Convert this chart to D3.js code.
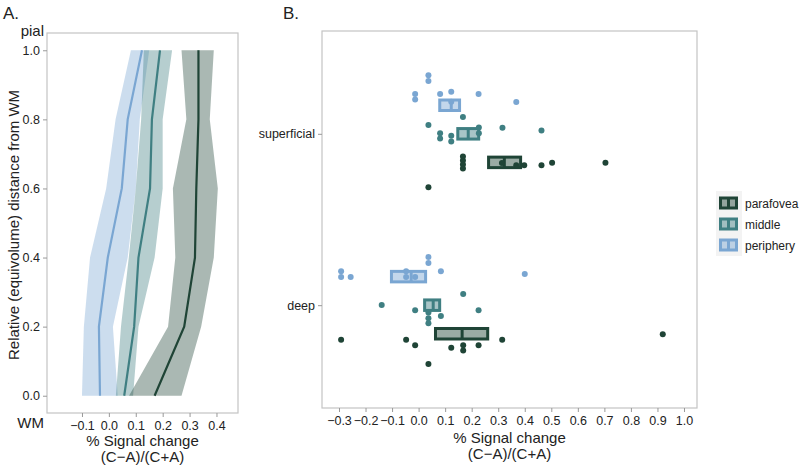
<!DOCTYPE html>
<html><head><meta charset="utf-8">
<script src="https://cdn.jsdelivr.net/npm/d3@7"></script>
<style>body{margin:0;background:#fff}svg{display:block}svg text{font-family:"Liberation Sans",Arial,Helvetica,sans-serif}</style>
</head><body><svg id="c" width="800" height="465"></svg>
<script>
// ---------- Panel A data ----------
const depth = [0, 0.2, 0.4, 0.6, 0.8, 1.0];
const paraMean  = [0.17, 0.28, 0.32, 0.325, 0.333, 0.333];
const paraLow   = [0.075, 0.22, 0.247, 0.238, 0.288, 0.27];
const paraHigh  = [0.27, 0.343, 0.39, 0.405, 0.375, 0.39];
const midMean   = [0.057, 0.094, 0.11, 0.153, 0.16, 0.19];
const midLow    = [0.026, 0.045, 0.074, 0.1, 0.12, 0.13];
const midHigh   = [0.09, 0.11, 0.17, 0.2, 0.2, 0.235];
const periMean  = [-0.033, -0.037, -0.004, 0.048, 0.07, 0.123];
const periLow   = [-0.1, -0.093, -0.07, -0.01, 0.025, 0.082];
const periHigh  = [0.033, 0.015, 0.07, 0.1, 0.115, 0.15];
const xTicksA = [-0.1, 0, 0.1, 0.2, 0.3, 0.4];
const yTicksA = [0, 0.2, 0.4, 0.6, 0.8, 1.0];

// ---------- Panel B data ----------
const layers = ["superficial", "deep"];
const groups = ["parafovea", "middle", "periphery"];
const xTicksB = [-0.3,-0.2,-0.1,0,0.1,0.2,0.3,0.4,0.5,0.6,0.7,0.8,0.9,1.0];
// crossbars: [low, median, high]
const boxSupPeri = [0.074, 0.123, 0.16];
const boxSupMid  = [0.142, 0.187, 0.232];
const boxSupPara = [0.258, 0.323, 0.39];
const boxDeepPeri = [-0.108, -0.028, 0.032];
const boxDeepMid  = [0.017, 0.055, 0.085];
const boxDeepPara = [0.058, 0.164, 0.266];
// subject points and their vertical jitter (in dodge units)
const supPeriVals = [0.037,0.037,-0.013,-0.013,0.081,0.123,0.123,0.226,0.368];
const supPeriJit  = [-1.05,-0.85,-0.39,-0.2,-0.39,-0.47,-0.12,-0.39,-0.11];
const supMidVals  = [0.167,0.037,0.081,0.081,0.123,0.123,0.227,0.227,0.316,0.463];
const supMidJit   = [-0.59,-0.31,-0.02,0.16,0.07,0.27,-0.22,-0.02,-0.21,-0.12];
const supParaVals = [0.167,0.167,0.167,0.167,0.368,0.398,0.314,0.463,0.503,0.704,0.037];
const supParaJit  = [-0.21,-0.07,0.07,0.21,0.1,0.1,0.02,0.1,0.01,0.01,0.87];
const deepPeriVals = [-0.292,-0.292,-0.256,-0.047,-0.047,-0.013,0.037,0.037,0.084,0.4];
const deepPeriJit  = [-0.19,0.01,0.01,-0.19,0.01,0.01,-0.69,-0.48,-0.19,-0.09];
const deepMidVals  = [-0.139,-0.013,0.037,0.037,0.037,0.084,0.168,0.226];
const deepMidJit   = [-0.01,0.18,0.26,0.46,0.63,0.38,-0.39,0.18];
const deepParaVals = [-0.292,-0.047,-0.013,0.037,0.123,0.168,0.168,0.226,0.315,0.92];
const deepParaJit  = [0.21,0.21,0.4,1.06,0.49,0.4,0.59,0.4,0.21,0.02];

const colors = {parafovea:"#1f4436", middle:"#3f7f82", periphery:"#7aa6d2"};

const svg = d3.select("#c");
const border = "#c4c4c4", txt = "#222";

// ================= Panel A =================
const A = {l:47, r:238, t:33, b:413};
const xA = d3.scaleLinear().domain([-0.23, 0.48]).range([A.l, A.r]);
const yA = d3.scaleLinear().domain([-0.05, 1.05]).range([A.b, A.t]);

svg.append("rect").attr("x",A.l).attr("y",A.t).attr("width",A.r-A.l).attr("height",A.b-A.t)
  .attr("fill","#fff").attr("stroke",border).attr("stroke-width",1.2);

const seriesA = [
  {name:"periphery", mean:periMean, low:periLow, high:periHigh},
  {name:"middle", mean:midMean, low:midLow, high:midHigh},
  {name:"parafovea", mean:paraMean, low:paraLow, high:paraHigh}
];
const area = d3.area().y(d=>yA(d.d)).x0(d=>xA(d.lo)).x1(d=>xA(d.hi));
const line = d3.line().y(d=>yA(d.d)).x(d=>xA(d.m));
seriesA.forEach(s=>{
  const pts = depth.map((d,i)=>({d, m:s.mean[i], lo:s.low[i], hi:s.high[i]}));
  svg.append("path").datum(pts).attr("d",area).attr("fill",colors[s.name]).attr("fill-opacity",0.38);
});
seriesA.forEach(s=>{
  const pts = depth.map((d,i)=>({d, m:s.mean[i]}));
  svg.append("path").datum(pts).attr("d",line).attr("fill","none")
    .attr("stroke",colors[s.name]).attr("stroke-width",2.2);
});

const axA = svg.append("g").attr("transform",`translate(0,${A.b})`)
  .call(d3.axisBottom(xA).tickValues(xTicksA).tickSize(4).tickPadding(4).tickFormat(d3.format(".1f")));
const ayA = svg.append("g").attr("transform",`translate(${A.l},0)`)
  .call(d3.axisLeft(yA).tickValues(yTicksA).tickSize(4).tickPadding(3).tickFormat(d3.format(".1f")));
[axA, ayA].forEach(g=>{
  g.select(".domain").remove();
  g.selectAll(".tick line").attr("stroke","#999");
  g.selectAll(".tick text").attr("fill",txt).attr("font-size",12.5);
});

svg.append("text").attr("x",44).attr("y",36).attr("text-anchor","end").attr("font-size",15).attr("fill",txt).text("pial");
svg.append("text").attr("x",44).attr("y",428).attr("text-anchor","end").attr("font-size",15).attr("fill",txt).text("WM");
svg.append("text").attr("transform",`translate(19,${(A.t+A.b)/2 + 2}) rotate(-90)`).attr("text-anchor","middle")
  .attr("font-size",15).attr("fill",txt).text("Relative (equivolume) distance from WM");
svg.append("text").attr("x",(A.l+A.r)/2).attr("y",446).attr("text-anchor","middle").attr("font-size",15).attr("fill",txt).text("% Signal change");
svg.append("text").attr("x",(A.l+A.r)/2).attr("y",462).attr("text-anchor","middle").attr("font-size",15).attr("fill",txt).text("(C\u2212A)/(C+A)");
svg.append("text").attr("x",3).attr("y",19).attr("font-size",17).attr("fill",txt).text("A.");

// ================= Panel B =================
const B = {l:322, r:697, t:31, b:408};
const xB = d3.scaleLinear().domain([-0.364, 1.049]).range([B.l, B.r]);
const yB = d3.scalePoint().domain(layers).range([B.t, B.b]).padding(0.6);
const dodge = yB.step()*0.5/3;
const offs = {periphery:-dodge, middle:0, parafovea:dodge};

svg.append("rect").attr("x",B.l).attr("y",B.t).attr("width",B.r-B.l).attr("height",B.b-B.t)
  .attr("fill","#fff").attr("stroke",border).attr("stroke-width",1.2);

const boxes = [
  {layer:"superficial", g:"periphery", v:boxSupPeri},
  {layer:"superficial", g:"middle", v:boxSupMid},
  {layer:"superficial", g:"parafovea", v:boxSupPara},
  {layer:"deep", g:"periphery", v:boxDeepPeri},
  {layer:"deep", g:"middle", v:boxDeepMid},
  {layer:"deep", g:"parafovea", v:boxDeepPara}
];
const bh = 10.5;
boxes.forEach(b=>{
  const cy = yB(b.layer)+offs[b.g];
  const x0 = xB(b.v[0])+1.5, x1 = xB(b.v[2])-1.5;
  svg.append("rect").attr("x",x0).attr("y",cy-bh/2).attr("width",x1-x0).attr("height",bh)
    .attr("fill",colors[b.g]).attr("fill-opacity",0.45).attr("stroke",colors[b.g]).attr("stroke-width",3);
  svg.append("line").attr("x1",xB(b.v[1])).attr("x2",xB(b.v[1])).attr("y1",cy-bh/2).attr("y2",cy+bh/2)
    .attr("stroke",colors[b.g]).attr("stroke-width",3);
});

const pointSets = [
  {layer:"superficial", g:"periphery", v:supPeriVals, j:supPeriJit},
  {layer:"superficial", g:"middle", v:supMidVals, j:supMidJit},
  {layer:"superficial", g:"parafovea", v:supParaVals, j:supParaJit},
  {layer:"deep", g:"periphery", v:deepPeriVals, j:deepPeriJit},
  {layer:"deep", g:"middle", v:deepMidVals, j:deepMidJit},
  {layer:"deep", g:"parafovea", v:deepParaVals, j:deepParaJit}
];
pointSets.forEach(s=>{
  svg.append("g").selectAll("circle").data(s.v.map((v,i)=>({v, j:s.j[i]}))).join("circle")
    .attr("cx",d=>xB(d.v)).attr("cy",d=>yB(s.layer)+offs[s.g]+d.j*dodge).attr("r",3)
    .attr("fill",colors[s.g]);
});

const axB = svg.append("g").attr("transform",`translate(0,${B.b})`)
  .call(d3.axisBottom(xB).tickValues(xTicksB).tickSize(4).tickPadding(4).tickFormat(d3.format(".1f")));
const ayB = svg.append("g").attr("transform",`translate(${B.l},0)`)
  .call(d3.axisLeft(yB).tickSize(4).tickPadding(3));
[axB, ayB].forEach(g=>{
  g.select(".domain").remove();
  g.selectAll(".tick line").attr("stroke","#999");
  g.selectAll(".tick text").attr("fill",txt).attr("font-size",12.5);
});
svg.append("text").attr("x",(B.l+B.r)/2).attr("y",443).attr("text-anchor","middle").attr("font-size",15).attr("fill",txt).text("% Signal change");
svg.append("text").attr("x",(B.l+B.r)/2).attr("y",459).attr("text-anchor","middle").attr("font-size",15).attr("fill",txt).text("(C\u2212A)/(C+A)");
svg.append("text").attr("x",283).attr("y",19).attr("font-size",17).attr("fill",txt).text("B.");

// ---------- Legend ----------
const lg = svg.append("g");
lg.append("rect").attr("x",716).attr("y",191).attr("width",26).attr("height",65).attr("fill","#f3f3f3");
groups.forEach((g,i)=>{
  const y = 203 + i*21;
  lg.append("rect").attr("x",720.5).attr("y",y-5).attr("width",16).attr("height",10)
    .attr("fill",colors[g]).attr("fill-opacity",0.45).attr("stroke",colors[g]).attr("stroke-width",3);
  lg.append("line").attr("x1",728.5).attr("x2",728.5).attr("y1",y-5).attr("y2",y+5).attr("stroke",colors[g]).attr("stroke-width",3);
  lg.append("text").attr("x",745).attr("y",y+4.5).attr("font-size",12).attr("fill",txt).text(g);
});
</script></body></html>
